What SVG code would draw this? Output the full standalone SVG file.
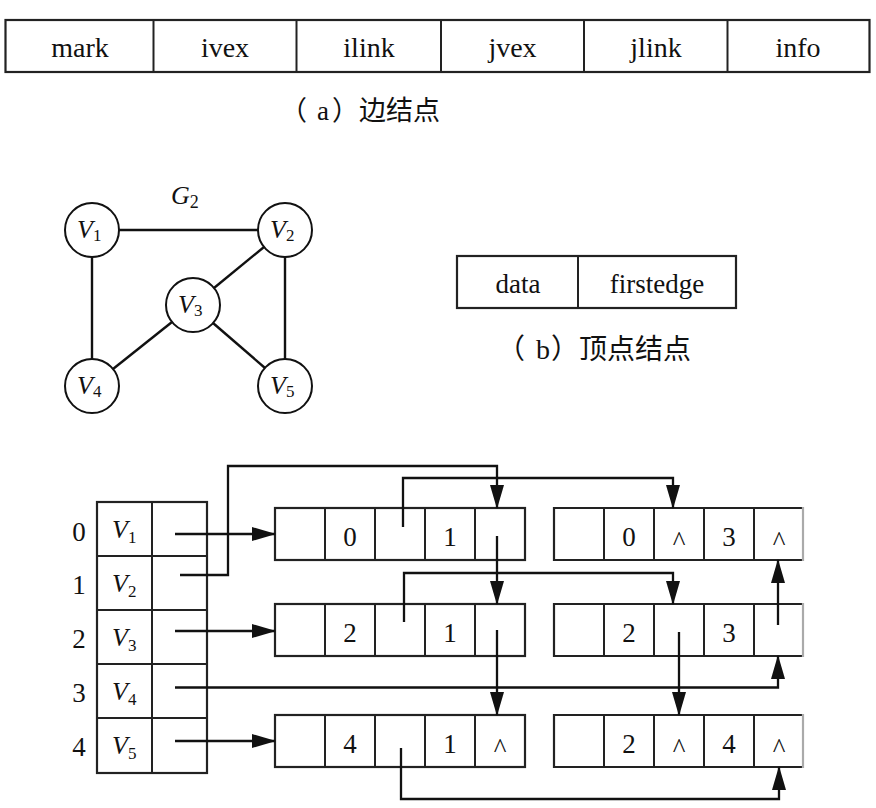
<svg xmlns="http://www.w3.org/2000/svg" width="876" height="808" viewBox="0 0 876 808">
<style>
  .bx{fill:#fff;stroke:#222;stroke-width:2.2}
  .dv{stroke:#222;stroke-width:2}
  .ln{fill:none;stroke:#111;stroke-width:2.3}
  .ge{stroke:#111;stroke-width:2.4}
  .ci{fill:#fff;stroke:#111;stroke-width:2}
  .t{font-family:'Liberation Serif','Times New Roman',Tinos,'DejaVu Serif','Noto Serif','Noto Sans CJK SC',serif;fill:#111}
  .tc{text-anchor:middle}
  .it{font-style:italic}
  .gr{stroke:#aaa;stroke-width:2.2}
</style>
<defs>
  <marker id="ah" markerUnits="userSpaceOnUse" viewBox="0 0 24 14" markerWidth="24" markerHeight="14" refX="23" refY="7" orient="auto">
    <path d="M0,0 L24,7 L0,14 z" fill="#111"/>
  </marker>
</defs>
<rect width="876" height="808" fill="#fff"/>

<!-- (a) edge node layout -->
<g id="edge-node-format">
  <rect class="bx" x="5.5" y="20" width="864" height="52"/>
  <line class="dv" x1="153.5" y1="20" x2="153.5" y2="72"/>
  <line class="dv" x1="296.5" y1="20" x2="296.5" y2="72"/>
  <line class="dv" x1="441" y1="20" x2="441" y2="72"/>
  <line class="dv" x1="584" y1="20" x2="584" y2="72"/>
  <line class="dv" x1="727.5" y1="20" x2="727.5" y2="72"/>
  <g class="t tc" font-size="28">
    <text x="80" y="57">mark</text>
    <text x="225" y="57">ivex</text>
    <text x="369" y="57">ilink</text>
    <text x="512.5" y="57">jvex</text>
    <text x="656" y="57">jlink</text>
    <text x="798" y="57">info</text>
  </g>
  <text class="t" y="120" font-size="27"><tspan x="280">（</tspan><tspan x="317">a</tspan><tspan x="332">）</tspan><tspan x="359">边结点</tspan></text>
</g>

<!-- graph G2 -->
<g id="graph-g2">
  <text class="t" x="171" y="204" font-size="26"><tspan class="it">G</tspan><tspan font-size="18" dy="4">2</tspan></text>
  <g id="g2-edges">
    <line class="ge" x1="119" y1="230" x2="258" y2="230"/>
    <line class="ge" x1="92" y1="257" x2="92" y2="359"/>
    <line class="ge" x1="285" y1="257" x2="285" y2="359"/>
    <line class="ge" x1="264" y1="247" x2="214" y2="288"/>
    <line class="ge" x1="172" y1="322" x2="113" y2="369"/>
    <line class="ge" x1="213" y1="323" x2="265" y2="368"/>
  </g>
  <g id="g2-v1"><circle class="ci" cx="92" cy="230" r="27"/><text class="t" x="77" y="238" font-size="26"><tspan class="it">V</tspan><tspan font-size="17" dy="3">1</tspan></text></g>
  <g id="g2-v2"><circle class="ci" cx="285" cy="230" r="27"/><text class="t" x="270" y="238" font-size="26"><tspan class="it">V</tspan><tspan font-size="17" dy="3">2</tspan></text></g>
  <g id="g2-v3"><circle class="ci" cx="193" cy="305" r="27"/><text class="t" x="178" y="313" font-size="26"><tspan class="it">V</tspan><tspan font-size="17" dy="3">3</tspan></text></g>
  <g id="g2-v4"><circle class="ci" cx="92" cy="386" r="27"/><text class="t" x="77" y="394" font-size="26"><tspan class="it">V</tspan><tspan font-size="17" dy="3">4</tspan></text></g>
  <g id="g2-v5"><circle class="ci" cx="285" cy="386" r="27"/><text class="t" x="270" y="394" font-size="26"><tspan class="it">V</tspan><tspan font-size="17" dy="3">5</tspan></text></g>
</g>

<!-- (b) vertex node layout -->
<g id="vertex-node-format">
  <rect class="bx" x="457" y="256" width="279" height="52"/>
  <line class="dv" x1="578" y1="256" x2="578" y2="308"/>
  <g class="t tc" font-size="27">
    <text x="518" y="293">data</text>
    <text x="657" y="293">firstedge</text>
  </g>
  <text class="t" y="359" font-size="28"><tspan x="497">（</tspan><tspan x="536">b</tspan><tspan x="551">）</tspan><tspan x="579">顶点结点</tspan></text>
</g>

<!-- vertex table -->
<g id="vertex-table">
  <rect class="bx" x="97" y="502" width="110" height="271"/>
  <line class="dv" x1="152" y1="502" x2="152" y2="773"/>
  <line class="dv" x1="97" y1="556" x2="207" y2="556"/>
  <line class="dv" x1="97" y1="610" x2="207" y2="610"/>
  <line class="dv" x1="97" y1="664" x2="207" y2="664"/>
  <line class="dv" x1="97" y1="718" x2="207" y2="718"/>
  <g class="t tc" font-size="27">
    <text x="79" y="541">0</text>
    <text x="79" y="594">1</text>
    <text x="79" y="648">2</text>
    <text x="79" y="702">3</text>
    <text x="79" y="756">4</text>
  </g>
  <g class="t" font-size="26">
    <text x="112" y="538"><tspan class="it">V</tspan><tspan font-size="17" dy="5">1</tspan></text>
    <text x="112" y="592"><tspan class="it">V</tspan><tspan font-size="17" dy="5">2</tspan></text>
    <text x="112" y="646"><tspan class="it">V</tspan><tspan font-size="17" dy="5">3</tspan></text>
    <text x="112" y="700"><tspan class="it">V</tspan><tspan font-size="17" dy="5">4</tspan></text>
    <text x="112" y="754"><tspan class="it">V</tspan><tspan font-size="17" dy="5">5</tspan></text>
  </g>
</g>

<!-- edge nodes -->
<g id="edge-0-1">
  <rect class="bx" x="275" y="508" width="250" height="52"/>
  <path class="dv" d="M325,508V560M375,508V560M425,508V560M475,508V560"/>
  <g class="t tc" font-size="27"><text x="350" y="546">0</text><text x="450" y="546">1</text></g>
</g>
<g id="edge-0-3">
  <path class="bx" d="M803,508H554V560H803"/>
  <line class="gr" x1="803" y1="507" x2="803" y2="561"/>
  <path class="dv" d="M604,508V560M654,508V560M704,508V560M754,508V560"/>
  <g class="t tc" font-size="27"><text x="629" y="546">0</text><text x="679" y="550">^</text><text x="729" y="546">3</text><text x="779" y="550">^</text></g>
</g>
<g id="edge-2-1">
  <rect class="bx" x="275" y="604" width="250" height="52"/>
  <path class="dv" d="M325,604V656M375,604V656M425,604V656M475,604V656"/>
  <g class="t tc" font-size="27"><text x="350" y="642">2</text><text x="450" y="642">1</text></g>
</g>
<g id="edge-2-3">
  <path class="bx" d="M803,604H554V656H803"/>
  <line class="gr" x1="803" y1="603" x2="803" y2="657"/>
  <path class="dv" d="M604,604V656M654,604V656M704,604V656M754,604V656"/>
  <g class="t tc" font-size="27"><text x="629" y="642">2</text><text x="729" y="642">3</text></g>
</g>
<g id="edge-4-1">
  <rect class="bx" x="275" y="715" width="250" height="52"/>
  <path class="dv" d="M325,715V767M375,715V767M425,715V767M475,715V767"/>
  <g class="t tc" font-size="27"><text x="350" y="753">4</text><text x="450" y="753">1</text><text x="500" y="757">^</text></g>
</g>
<g id="edge-2-4">
  <path class="bx" d="M803,715H554V767H803"/>
  <line class="gr" x1="803" y1="714" x2="803" y2="768"/>
  <path class="dv" d="M604,715V767M654,715V767M704,715V767M754,715V767"/>
  <g class="t tc" font-size="27"><text x="629" y="753">2</text><text x="679" y="757">^</text><text x="729" y="753">4</text><text x="779" y="757">^</text></g>
</g>

<!-- connectors -->
<g id="connectors">
  <path class="ln" d="M175,534H275" marker-end="url(#ah)"/>
  <path class="ln" d="M180,575H228V466H497V508" marker-end="url(#ah)"/>
  <path class="ln" d="M175,631H275" marker-end="url(#ah)"/>
  <path class="ln" d="M175,687.5H778V656" marker-end="url(#ah)"/>
  <path class="ln" d="M175,741H275" marker-end="url(#ah)"/>
  <path class="ln" d="M403,527V478H673V508" marker-end="url(#ah)"/>
  <path class="ln" d="M497,536V604" marker-end="url(#ah)"/>
  <path class="ln" d="M404,622V573H673V604" marker-end="url(#ah)"/>
  <path class="ln" d="M497,630V715" marker-end="url(#ah)"/>
  <path class="ln" d="M679,632V715" marker-end="url(#ah)"/>
  <path class="ln" d="M778,625V560" marker-end="url(#ah)"/>
  <path class="ln" d="M401,748V799H779V767" marker-end="url(#ah)"/>
</g>
</svg>
